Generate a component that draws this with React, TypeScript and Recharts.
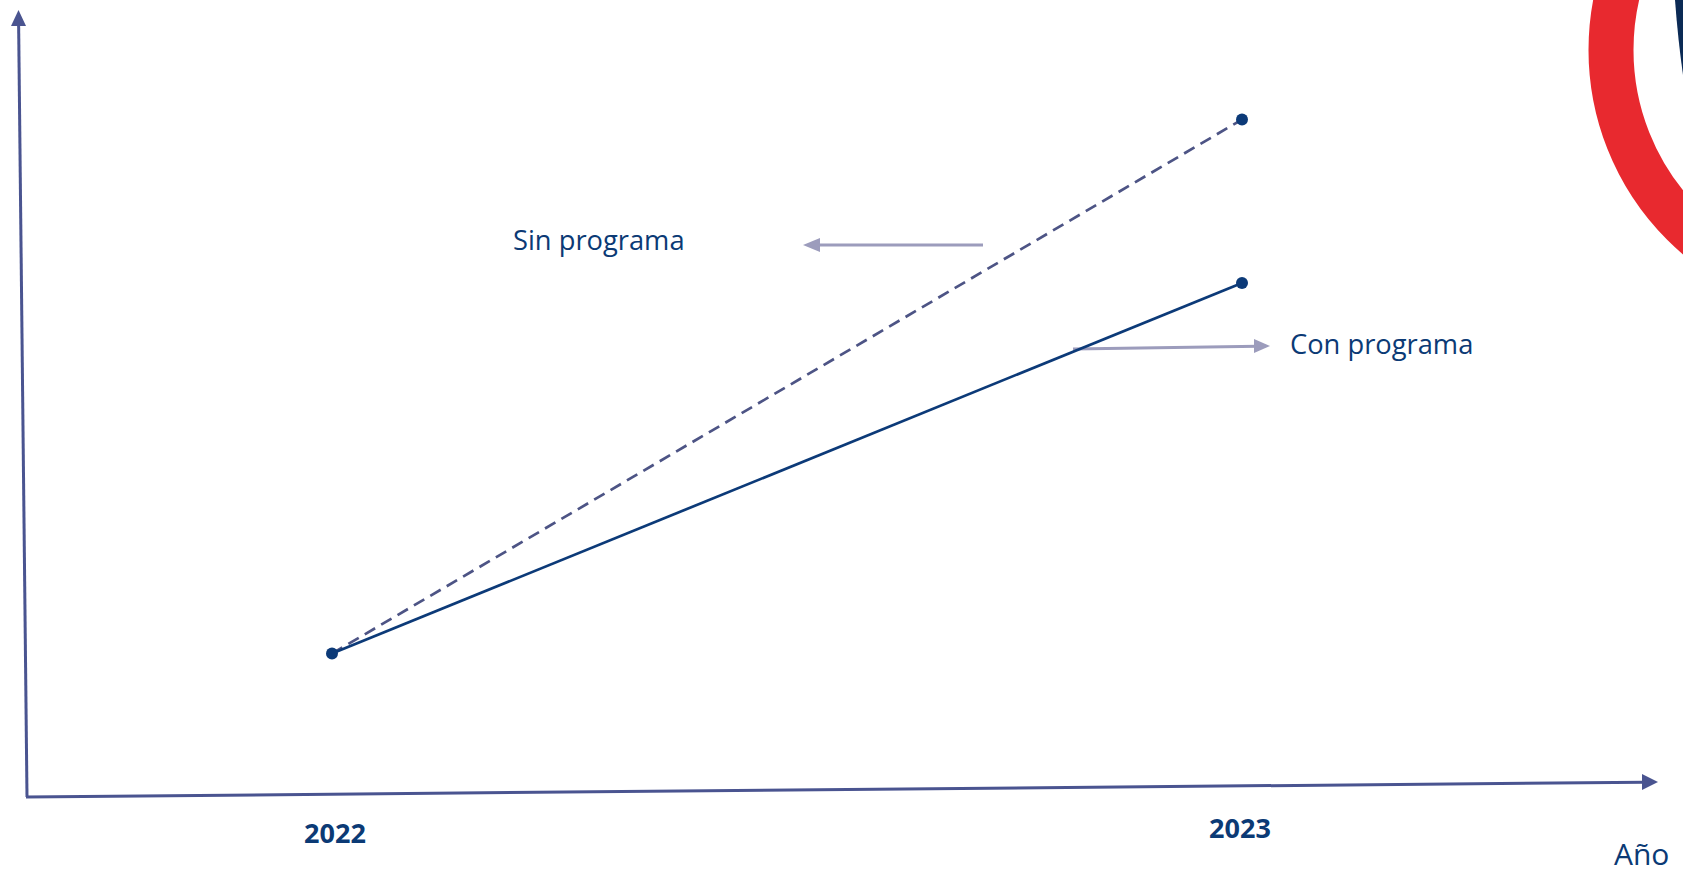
import React from 'react';
import { LineChart, Line, XAxis, YAxis } from 'recharts';

const years = ['2022', '2023'];
const sinPrograma = [18, 85];
const conPrograma = [18, 64.5];

const data = years.map((y, i) => ({ year: y, sin: sinPrograma[i], con: conPrograma[i] }));

const W = 1683;
const H = 874;
const NAVY = '#0c3a78';
const AXIS = '#4a5490';
const ARROW = '#9c9cbc';
const TEXT = '#0b3a75';
const FONT = '"Open Sans", sans-serif';

const YearTick = (props: any) => {
  const { x, y, payload } = props;
  const d = x - 332;
  return (
    <text x={x + 3 - d * 0.0055} y={y + 38 - d * 0.006} textAnchor="middle" fill={TEXT} fontFamily={FONT} fontWeight={700} fontSize={27}>
      {payload.value}
    </text>
  );
};

const renderDot = (color: string, skipFirst: boolean) => (p: any) => {
  if (skipFirst && p.index === 0) return <g key={`skip-${p.index}`} />;
  return (
    <circle key={`dot-${p.index}`} cx={p.cx} cy={p.cy} r={6} fill={color} stroke="none" />
  );
};

const Decorations = () => (
  <svg width={W} height={H} style={{ position: 'absolute', left: 0, top: 0 }}>
    {/* red ring */}
    <circle cx={1857} cy={50} r={246} fill="none" stroke="#e8292f" strokeWidth={45} />
    <path d="M1675,0 Q1678,40 1683,75 L1683,0 Z" fill="#0b2a55" />
    {/* y axis */}
    <line x1={27} y1={797} x2={18.6} y2={22} stroke={AXIS} strokeWidth={3} />
    <polygon points="18.5,10 26,26 11,26" fill={AXIS} />
    {/* x axis */}
    <line x1={26} y1={797} x2={1645} y2={782.2} stroke={AXIS} strokeWidth={3} />
    <polygon points="1658,782 1642,774 1642,790" fill={AXIS} />
    {/* annotation arrows */}
    <line x1={983} y1={245} x2={815} y2={245} stroke={ARROW} strokeWidth={3} />
    <polygon points="803,245 820,238 820,252" fill={ARROW} />
    <line x1={1073} y1={349} x2={1258} y2={346.3} stroke={ARROW} strokeWidth={3} />
    <polygon points="1270,346 1254,339 1254,353" fill={ARROW} />
    <text x={513} y={250} fill={TEXT} fontFamily={FONT} fontSize={27.3}>Sin programa</text>
    <text x={1290} y={354} fill={TEXT} fontFamily={FONT} fontSize={27.3}>Con programa</text>
    <text x={1614} y={865} fill={TEXT} fontFamily={FONT} fontSize={30}>Año</text>
  </svg>
);

export default function App() {
  return (
    <div style={{ position: 'absolute', left: 0, top: 0, width: W, height: H, background: '#fff', overflow: 'hidden' }}>
      <Decorations />
      <div style={{ position: 'absolute', left: 0, top: 0 }}>
        <LineChart width={W} height={H} data={data} margin={{ top: 0, right: 0, bottom: 0, left: 0 }}>
          <XAxis
            dataKey="year"
            height={77}
            axisLine={false}
            tickLine={false}
            padding={{ left: 332, right: W - 1242 }}
            tick={<YearTick />}
            interval={0}
          />
          <YAxis hide domain={[0, 100]} />
          <Line
            dataKey="sin"
            stroke="#4d5485"
            strokeWidth={2.7}
            strokeDasharray="12 7"
            dot={renderDot(NAVY, true)}
            activeDot={false}
            isAnimationActive={false}
          />
          <Line
            dataKey="con"
            stroke={NAVY}
            strokeWidth={2.7}
            dot={renderDot(NAVY, false)}
            activeDot={false}
            isAnimationActive={false}
          />
        </LineChart>
      </div>
    </div>
  );
}
